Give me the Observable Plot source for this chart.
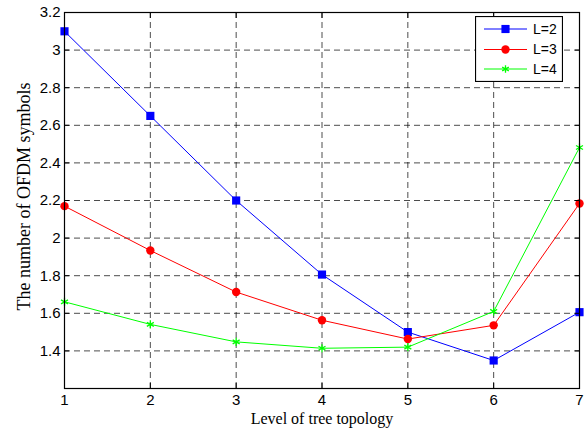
<!DOCTYPE html>
<html><head><meta charset="utf-8">
<script src="https://cdn.jsdelivr.net/npm/d3@7"></script>
<script src="https://cdn.jsdelivr.net/npm/@observablehq/plot@0.6"></script>
<style>
body{margin:0;background:#fff}
#wrap{position:relative;width:585px;height:433px}
#legend{position:absolute;left:475px;top:16px}
</style>
</head><body><div id="wrap"></div>
<script>
const levels = [1, 2, 3, 4, 5, 6, 7];
const seriesNames = ["L=2", "L=3", "L=4"];
const L2 = [3.10, 2.65, 2.20, 1.806, 1.50, 1.349, 1.606];
const L3 = [2.17, 1.934, 1.713, 1.563, 1.463, 1.536, 2.184];
const L4 = [1.661, 1.541, 1.448, 1.414, 1.42, 1.61, 2.482];
const yTicks = [1.4, 1.6, 1.8, 2, 2.2, 2.4, 2.6, 2.8, 3, 3.2];
const xTicks = [1, 2, 3, 4, 5, 6, 7];
const colors = ["#0000ff", "#ff0000", "#00ff00"];
const symbols = ["square", "circle", "asterisk"];
const radii = [4.6, 4.2, 3.8];
const xTitle = "Level of tree topology";
const yTitle = "The number of OFDM symbols";

const allSeries = [L2, L3, L4];
const data = [];
allSeries.forEach((vals, i) => vals.forEach((v, j) => data.push({series: seriesNames[i], x: levels[j], y: v})));

const sans = "'Liberation Sans', Arial, Helvetica, sans-serif";
const serif = "'Liberation Serif', 'Times New Roman', serif";
const grid = {stroke: "#000", strokeOpacity: 0.7, strokeDasharray: "6,4", strokeWidth: 1};

const dotMarks = seriesNames.map((s, i) => {
  const sub = data.filter(d => d.series === s);
  const filled = symbols[i] !== "asterisk";
  return Plot.dot(sub, {x: "x", y: "y", symbol: () => symbols[i], r: radii[i],
    fill: filled ? colors[i] : "none", stroke: colors[i], strokeWidth: filled ? 0 : 1.3});
});

const plot = Plot.plot({
  width: 585, height: 433,
  marginLeft: 64, marginRight: 6, marginTop: 12, marginBottom: 45,
  x: {domain: [1, 7]},
  y: {domain: [1.2, 3.2]},
  symbol: {domain: symbols, range: symbols},
  style: {fontFamily: sans, fontSize: "15px", color: "#000", background: "#fff", overflow: "visible"},
  marks: [
    Plot.ruleX(xTicks.slice(1, -1), grid),
    Plot.ruleY(yTicks.slice(0, -1), grid),
    Plot.line(data, {x: "x", y: "y", z: "series", stroke: d => colors[seriesNames.indexOf(d.series)], strokeWidth: 1}),
    ...dotMarks,
    Plot.frame({stroke: "#000", strokeWidth: 1.2}),
    Plot.axisY(yTicks, {anchor: "left", tickSize: 5, dx: 5, fill: "none", label: null}),
    Plot.axisY(yTicks, {anchor: "right", tickSize: 5, dx: -5, fill: "none", label: null}),
    Plot.axisX(xTicks, {anchor: "bottom", tickSize: 5, dy: -5, fill: "none", label: null}),
    Plot.axisX(xTicks, {anchor: "top", tickSize: 5, dy: 5, fill: "none", label: null}),
    Plot.axisY(yTicks, {anchor: "left", tickSize: 0, tickPadding: 4, tickFormat: d => String(d), label: null, fontSize: 15}),
    Plot.axisX(xTicks, {anchor: "bottom", tickSize: 0, tickPadding: 6, tickFormat: d => String(d), label: null, fontSize: 15}),
    Plot.text([xTitle], {frameAnchor: "bottom", dy: 30.5, fontFamily: serif, fontSize: 16, lineAnchor: "middle"}),
    Plot.text([yTitle], {frameAnchor: "left", dx: -40, dy: -4, rotate: -90, textAnchor: "middle", fontFamily: serif, fontSize: 18, lineAnchor: "middle"})
  ]
});
const wrap = document.getElementById("wrap");
wrap.appendChild(plot);

// legend
const lw = 88, lh = 66;
const leg = d3.select(wrap).append("div").attr("id", "legend")
  .append("svg").attr("width", lw).attr("height", lh);
leg.append("rect").attr("x", 0.5).attr("y", 0.5).attr("width", lw - 1).attr("height", lh - 1)
  .attr("fill", "#fff").attr("stroke", "#000").attr("stroke-width", 1.2);
const rowY = [13, 33.5, 53];
const symMap = {square: d3.symbolSquare, circle: d3.symbolCircle, asterisk: d3.symbolAsterisk};
seriesNames.forEach((s, i) => {
  const g = leg.append("g").attr("transform", `translate(0,${rowY[i]})`);
  g.append("line").attr("x1", 9).attr("x2", 52).attr("y1", 0).attr("y2", 0).attr("stroke", colors[i]).attr("stroke-width", 1);
  const filled = symbols[i] !== "asterisk";
  const size = Math.PI * radii[i] * radii[i];
  g.append("path").attr("transform", "translate(30.5,0)")
    .attr("d", d3.symbol(symMap[symbols[i]], symbols[i] === "asterisk" ? size * 0.9 : size)())
    .attr("fill", filled ? colors[i] : "none").attr("stroke", filled ? "none" : colors[i]).attr("stroke-width", 1.3);
  g.append("text").attr("x", 58).attr("y", 0).attr("dy", "0.35em")
    .attr("font-family", sans).attr("font-size", 14).text(s);
});
</script>
</body></html>
